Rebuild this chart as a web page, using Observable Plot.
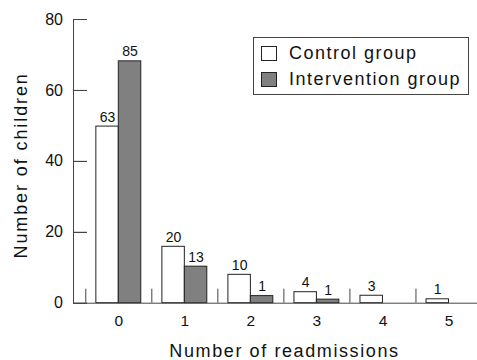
<!DOCTYPE html>
<html>
<head>
<meta charset="utf-8">
<script src="https://cdn.jsdelivr.net/npm/d3@7"></script>
<script src="https://cdn.jsdelivr.net/npm/@observablehq/plot@0.6"></script>
<style>
  html, body { margin: 0; padding: 0; background: #fff; overflow: hidden; }
  #wrap { position: relative; width: 477px; height: 360px; font-family: "Liberation Sans", Arial, Helvetica, sans-serif; }
  #wrap svg { font-family: "Liberation Sans", Arial, Helvetica, sans-serif; }
  .axl { position: absolute; background: #444; z-index: 5; }
  #legend { position: absolute; left: 253px; top: 37px; width: 216px; height: 58px; border: 1px solid #444; box-sizing: border-box; background: #fff; }
  .item { position: absolute; left: 7px; height: 16px; font-size: 18px; letter-spacing: 1.5px; color: #111; line-height: 16px; }
  .sw { position: absolute; left: 0; top: 0px; width: 14px; height: 13px; border: 1px solid #222; }
  .txt { position: absolute; left: 28px; top: -1px; white-space: nowrap; }
</style>
</head>
<body>
<div id="wrap"></div>
<script>
const categories = [0, 1, 2, 3, 4, 5];
const controlValues = [49.8, 15.9, 8.0, 3.1, 2.1, 1.1];
const interventionValues = [68.2, 10.3, 2.0, 1.0, 0, 0];
const controlCounts = ["63", "20", "10", "4", "3", "1"];
const interventionCounts = ["85", "13", "1", "1", "", ""];
const yTicks = [0, 20, 40, 60, 80];
const separatorTicks = [-0.5, 0.5, 1.5, 2.5, 3.5, 4.5];
const seriesNames = ["Control group", "Intervention group"];
const seriesColors = ["#ffffff", "#808080"];
const xLabel = "Number of readmissions";
const yLabel = "Number of children";

const barW = 0.34;
const xDomain = [-0.686, 5.432];
const yTickLen = 0.212; // inward tick length, in x units

const rows = [];
categories.forEach((c, i) => {
  rows.push({k: c, group: seriesNames[0], v: controlValues[i], n: controlCounts[i], x1: c - barW, x2: c});
  rows.push({k: c, group: seriesNames[1], v: interventionValues[i], n: interventionCounts[i], x1: c, x2: c + barW});
});
const bars = rows.filter(d => d.v > 0);

const chart = Plot.plot({
  width: 477, height: 360, marginLeft: 73, marginRight: 0, marginTop: 19, marginBottom: 57.3,
  style: {fontFamily: "Liberation Sans, Arial, sans-serif", color: "#111"},
  x: {domain: xDomain, axis: null},
  y: {domain: [0, 80], axis: null},
  color: {domain: seriesNames, range: seriesColors},
  marks: [
    Plot.rectY(bars, {x1: "x1", x2: "x2", y1: 0, y2: "v", fill: "group", stroke: "#222", strokeWidth: 1}),
    Plot.text(bars, {x: d => (d.x1 + d.x2) / 2, y: "v", text: "n", dy: -9.5, fontSize: 14, fill: "#111"}),
    Plot.frame({anchor: "left", stroke: "#444"}),
    Plot.ruleY(yTicks, {y: d => d, x1: xDomain[0], x2: xDomain[0] + yTickLen, stroke: "#444"}),
    Plot.frame({anchor: "bottom", stroke: "#444"}),
    Plot.axisY(yTicks, {anchor: "left", tickSize: 0, tickPadding: 10.5, fontSize: 16, label: null}),
    Plot.axisX(separatorTicks, {anchor: "bottom", tickSize: -14, tickFormat: () => "", stroke: "#444", label: null}),
    Plot.axisX(categories, {anchor: "bottom", tickSize: 0, tickPadding: 12, fontSize: 15.5, label: null}),
    Plot.text([xLabel], {frameAnchor: "bottom", textAnchor: "middle", lineAnchor: "middle", dx: 9, dy: 48.5, fontSize: 18, fill: "#111"}),
    Plot.text([yLabel], {frameAnchor: "left", textAnchor: "middle", lineAnchor: "middle", rotate: -90, dx: -52, dy: 4, fontSize: 18, fill: "#111"})
  ]
});

d3.select(chart).selectAll("text").each(function() {
  const t = this.textContent;
  if (t === xLabel) this.style.letterSpacing = "1.6px";
  if (t === yLabel) this.style.letterSpacing = "1.9px";
});

const wrap = document.getElementById("wrap");
wrap.appendChild(chart);

// y axis line and inward ticks, positioned through the chart's own scales
const xs = chart.scale("x"), ys = chart.scale("y");
const x0 = Math.round(xs.apply(xDomain[0]));
const xt = Math.round(xs.apply(xDomain[0] + yTickLen));
const yTop = Math.round(ys.apply(80)), yBot = Math.round(ys.apply(0));
function addLine(left, top, w, h) {
  const d = document.createElement("div");
  d.className = "axl";
  d.style.left = left + "px"; d.style.top = top + "px";
  d.style.width = w + "px"; d.style.height = h + "px";
  wrap.appendChild(d);
}
addLine(x0, yTop, 1, yBot - yTop + 1);
yTicks.forEach(v => addLine(x0, Math.round(ys.apply(v)), xt - x0, 1));

const legend = document.createElement("div");
legend.id = "legend";
seriesNames.forEach((name, i) => {
  const item = document.createElement("div");
  item.className = "item";
  item.style.top = (8 + i * 26) + "px";
  const sw = document.createElement("div");
  sw.className = "sw";
  sw.style.background = seriesColors[i];
  const t = document.createElement("div");
  t.className = "txt";
  t.textContent = name;
  item.appendChild(sw);
  item.appendChild(t);
  legend.appendChild(item);
});
wrap.appendChild(legend);
</script>
</body>
</html>
